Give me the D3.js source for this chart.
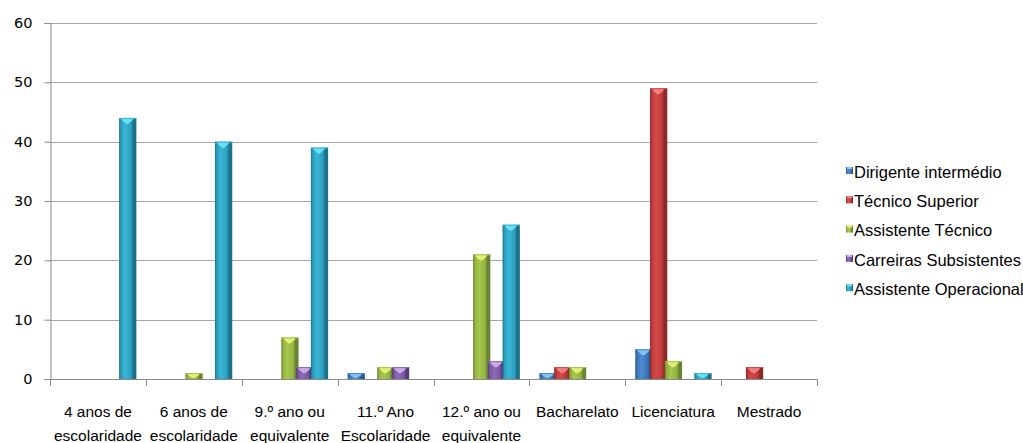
<!DOCTYPE html>
<html>
<head>
<meta charset="utf-8">
<script src="https://cdn.jsdelivr.net/npm/d3@7"></script>
<style>
  html, body { margin: 0; padding: 0; background: #fff; }
  svg { display: block; }
</style>
</head>
<body>
<div id="chart"></div>
<script>
// Escolaridade por carreira
const categories = [
  "4 anos de\nescolaridade",
  "6 anos de\nescolaridade",
  "9.º ano ou\nequivalente",
  "11.º Ano\nEscolaridade",
  "12.º ano ou\nequivalente",
  "Bacharelato",
  "Licenciatura",
  "Mestrado"
];
const seriesNames = [
  "Dirigente intermédio",
  "Técnico Superior",
  "Assistente Técnico",
  "Carreiras Subsistentes",
  "Assistente Operacional"
];
const dirigenteIntermedio   = [0, 0, 0, 1, 0, 1, 5, 0];
const tecnicoSuperior       = [0, 0, 0, 0, 0, 2, 49, 2];
const assistenteTecnico     = [0, 1, 7, 2, 21, 2, 3, 0];
const carreirasSubsistentes = [0, 0, 2, 2, 3, 0, 0, 0];
const assistenteOperacional = [44, 40, 39, 0, 26, 0, 1, 0];
const yTicks = [0, 10, 20, 30, 40, 50, 60];

const seriesValues = [dirigenteIntermedio, tecnicoSuperior, assistenteTecnico,
                      carreirasSubsistentes, assistenteOperacional];

// colour ramps per series: [dark edge, main, light, cap highlight]
const palette = [
  { dark: "#2a5a94", main: "#3b73b9", light: "#4f8ad0", cap: "#8ccaf5" },
  { dark: "#8c2828", main: "#be3a3a", light: "#d24a49", cap: "#f58585" },
  { dark: "#6a8330", main: "#93b33f", light: "#a8c650", cap: "#e6f57a" },
  { dark: "#553c77", main: "#7857a0", light: "#8d6bb6", cap: "#d2b2f0" },
  { dark: "#1d7189", main: "#2b9fbf", light: "#3ab6d6", cap: "#6ee6f8" }
];

const W = 1023, H = 443;
const M = { left: 50, right: 206, top: 23, bottom: 64 };
const plotRight = W - M.right;      // 817
const plotBottom = H - M.bottom;    // 379

const svg = d3.select("#chart").append("svg")
  .attr("width", W).attr("height", H)
  .style("font-family", "'Liberation Sans', Arial, sans-serif");

const defs = svg.append("defs");
palette.forEach((p, i) => {
  const g = defs.append("linearGradient").attr("id", "bar" + i)
    .attr("x1", "0").attr("x2", "1").attr("y1", "0").attr("y2", "0");
  g.append("stop").attr("offset", "0").attr("stop-color", p.dark);
  g.append("stop").attr("offset", "0.12").attr("stop-color", p.main);
  g.append("stop").attr("offset", "0.35").attr("stop-color", p.light);
  g.append("stop").attr("offset", "0.7").attr("stop-color", p.main);
  g.append("stop").attr("offset", "0.82").attr("stop-color", p.dark);
  g.append("stop").attr("offset", "1").attr("stop-color", p.dark);
});

const x0 = d3.scaleBand().domain(d3.range(categories.length))
  .range([M.left, plotRight]).padding(0);
const x1 = d3.scaleBand().domain(d3.range(seriesNames.length))
  .range([10, x0.bandwidth() - 12]).padding(0);
const y = d3.scaleLinear().domain([0, 60]).range([plotBottom, M.top]);

// horizontal gridlines
svg.append("g").selectAll("line").data(yTicks.filter(t => t > 0)).join("line")
  .attr("x1", M.left).attr("x2", plotRight)
  .attr("y1", d => Math.round(y(d)) + 0.5).attr("y2", d => Math.round(y(d)) + 0.5)
  .attr("stroke", "#a6a6a6").attr("stroke-width", 1.2);

// y axis
const yAxis = d3.axisLeft(y).tickValues(yTicks).tickSize(6).tickPadding(12);
const gy = svg.append("g").attr("transform", `translate(${M.left + 0.5},0)`).call(yAxis);
gy.select(".domain").attr("stroke", "#8a8a8a");
gy.selectAll(".tick line").attr("stroke", "#8a8a8a");
gy.selectAll(".tick text")
  .style("font-family", "'DejaVu Sans', Verdana, sans-serif")
  .style("font-size", "14.5px").attr("fill", "#000");

// x axis with ticks at category boundaries
const boundaries = d3.range(categories.length + 1).map(i =>
  i < categories.length ? x0(i) : x0(categories.length - 1) + x0.bandwidth());
const gx = svg.append("g");
gx.append("line")
  .attr("x1", M.left).attr("x2", plotRight)
  .attr("y1", plotBottom + 0.5).attr("y2", plotBottom + 0.5)
  .attr("stroke", "#8a8a8a").attr("stroke-width", 1.2);
gx.selectAll("line.tk").data(boundaries).join("line").attr("class", "tk")
  .attr("x1", d => Math.round(d) + 0.5).attr("x2", d => Math.round(d) + 0.5)
  .attr("y1", plotBottom).attr("y2", plotBottom + 7)
  .attr("stroke", "#8a8a8a");

// category labels
const lab = gx.selectAll("text.cat").data(categories).join("text").attr("class", "cat")
  .attr("text-anchor", "middle")
  .attr("font-size", "15.5px").attr("fill", "#000")
  .attr("transform", (d, i) => `translate(${x0(i) + x0.bandwidth() / 2},${plotBottom + 38})`);
lab.selectAll("tspan").data(d => d.split("\n")).join("tspan")
  .attr("x", 0).attr("dy", (d, i) => i === 0 ? 0 : 24).text(d => d);

// bars
const bars = [];
seriesValues.forEach((vals, s) => {
  vals.forEach((v, c) => { if (v > 0) bars.push({ s, c, v }); });
});
const barW = x1.bandwidth() + 2.5;
const bg = svg.append("g");
seriesValues.forEach((vals, s) => {
  const data = bars.filter(b => b.s === s);
  const g = bg.append("g");
  g.selectAll("rect").data(data).join("rect")
    .attr("x", d => x0(d.c) + x1(d.s))
    .attr("y", d => y(d.v))
    .attr("width", barW)
    .attr("height", d => y(0) - y(d.v))
    .attr("fill", `url(#bar${s})`);
  // bevel highlight at the top of each bar
  g.selectAll("path").data(data).join("path")
    .attr("d", d => {
      const bx = x0(d.c) + x1(d.s), top = y(d.v);
      const l = bx + 2.5, r = bx + barW - 3.5, mid = (l + r) / 2;
      const h = Math.min(6, (y(0) - top) - 1);
      return `M${l},${top + 0.5}L${r},${top + 0.5}L${r},${top + 2}L${mid + 1},${top + h}L${mid - 1},${top + h}L${l},${top + 2}Z`;
    })
    .attr("fill", palette[s].cap).attr("opacity", 0.9);
  // top rim
  g.selectAll("line").data(data).join("line")
    .attr("x1", d => x0(d.c) + x1(d.s)).attr("x2", d => x0(d.c) + x1(d.s) + barW)
    .attr("y1", d => y(d.v) + 0.5).attr("y2", d => y(d.v) + 0.5)
    .attr("stroke", palette[s].light).attr("stroke-width", 1);
});

// legend
const lg = svg.append("g").attr("transform", "translate(846,172)");
const li = lg.selectAll("g").data(seriesNames).join("g")
  .attr("transform", (d, i) => `translate(0,${i * 29.3})`);
li.append("rect").attr("x", 0).attr("y", -5).attr("width", 7).attr("height", 7)
  .attr("fill", (d, i) => `url(#bar${i})`);
li.append("rect").attr("x", 1).attr("y", -5).attr("width", 5).attr("height", 2)
  .attr("fill", (d, i) => palette[i].cap);
li.append("text").attr("x", 8).attr("y", 0).attr("dy", "0.35em")
  .attr("font-size", "16.5px").attr("fill", "#000").text(d => d);
</script>
</body>
</html>
